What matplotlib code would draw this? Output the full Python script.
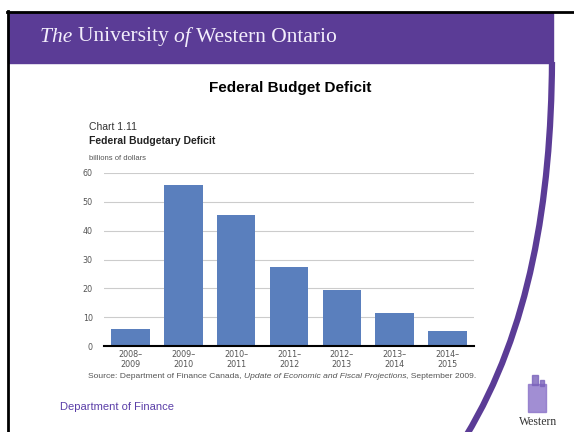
import matplotlib
matplotlib.use('Agg')
import matplotlib.pyplot as plt
from matplotlib.patches import Rectangle, PathPatch
from matplotlib.path import Path
import numpy as np

# data (billions of dollars)
years = ['2008–\n2009', '2009–\n2010', '2010–\n2011', '2011–\n2012',
         '2012–\n2013', '2013–\n2014', '2014–\n2015']
deficit = [5.8, 55.9, 45.4, 27.5, 19.4, 11.3, 5.2]
yticks = [0, 10, 20, 30, 40, 50, 60]

PURPLE = '#5b3c96'
BAR = '#5a7fbd'
GREY = '#555555'

W, H = 574, 432
fig = plt.figure(figsize=(W / 100, H / 100), dpi=100)
rend = fig.canvas.get_renderer()

#
#   slide background (pixel coords)
#
bg = fig.add_axes([0, 0, 1, 1])
bg.set_xlim(0, W)
bg.set_ylim(H, 0)
bg.axis('off')


def run_text(x, y, parts, **kw):
    # write pieces of text one after another (mixed styles)
    for s, style in parts:
        t = bg.text(x, y, s, style=style, va='center', **kw)
        bb = t.get_window_extent(renderer=rend)
        x += bb.width


bg.add_patch(Rectangle((8, 12), 545, 51, color=PURPLE, zorder=1))
bg.plot([7, W], [11.5, 11.5], color='black', lw=2, zorder=2)
bg.plot([8, 8], [11, H], color='black', lw=2, zorder=2)

# purple swoosh on the right
swoosh = Path([(552, 62), (551, 200), (530, 330), (466, 436)],
              [Path.MOVETO, Path.CURVE4, Path.CURVE4, Path.CURVE4])
bg.add_patch(PathPatch(swoosh, fill=False, edgecolor=PURPLE, lw=4.5, zorder=2))

run_text(40, 37, [('The ', 'italic'), ('University ', 'normal'), ('of ', 'italic'),
                  ('Western Ontario', 'normal')],
         fontsize=15.5, family='Liberation Serif', color='#f3eefc')

bg.text(290, 88, 'Federal Budget Deficit', fontsize=11, fontweight='bold',
        family='Liberation Sans', ha='center', va='center')

bg.text(89, 127, 'Chart 1.11', fontsize=7.5, family='Liberation Sans',
        color='#333333', va='center')
bg.text(89, 141, 'Federal Budgetary Deficit', fontsize=7.5, fontweight='bold',
        family='Liberation Sans', color='#222222', va='center')
bg.text(89, 159, 'billions of dollars', fontsize=5.5, family='Liberation Sans',
        color=GREY, va='center')

run_text(88, 377, [('Source: Department of Finance Canada, ', 'normal'),
                   ('Update of Economic and Fiscal Projections', 'italic'),
                   (', September 2009.', 'normal')],
         fontsize=6.1, family='Liberation Sans', color=GREY)

bg.text(60, 407, 'Department of Finance', fontsize=8, family='Liberation Sans',
        color='#5b3fa8', va='center')

# Western logo
bg.add_patch(Rectangle((528, 384), 18, 28, color='#8a72c8', alpha=0.8, zorder=2))
bg.add_patch(Rectangle((532, 375), 6, 10, color='#7a62bb', alpha=0.8, zorder=2))
bg.add_patch(Rectangle((540, 380), 4, 6, color='#7a62bb', alpha=0.8, zorder=2))
bg.text(538, 422, 'Western', fontsize=8.5, family='Liberation Serif',
        color='#333333', ha='center', va='center')

#
#   bar chart
#
ax = fig.add_axes([104 / W, 1 - 346 / H, 370 / W, 173 / H])
x = np.arange(len(years))
ax.bar(x, deficit, width=0.73, color=BAR, zorder=3)
ax.set_xlim(-0.5, len(years) - 0.5)
ax.set_ylim(0, 60)
ax.set_yticks(yticks)
ax.set_xticks(x)
ax.set_xticklabels(years, fontsize=5.8, color=GREY, linespacing=1.15)
ax.tick_params(axis='y', labelsize=5.8, labelcolor=GREY, length=0, pad=8)
ax.tick_params(axis='x', length=0, pad=3)
ax.grid(axis='y', color='#cccccc', lw=0.8, zorder=0)
for s in ['top', 'right', 'left']:
    ax.spines[s].set_visible(False)
ax.spines['bottom'].set_linewidth(1.5)
ax.spines['bottom'].set_zorder(4)
ax.patch.set_alpha(0)

fig.savefig('out.png', dpi=100)
